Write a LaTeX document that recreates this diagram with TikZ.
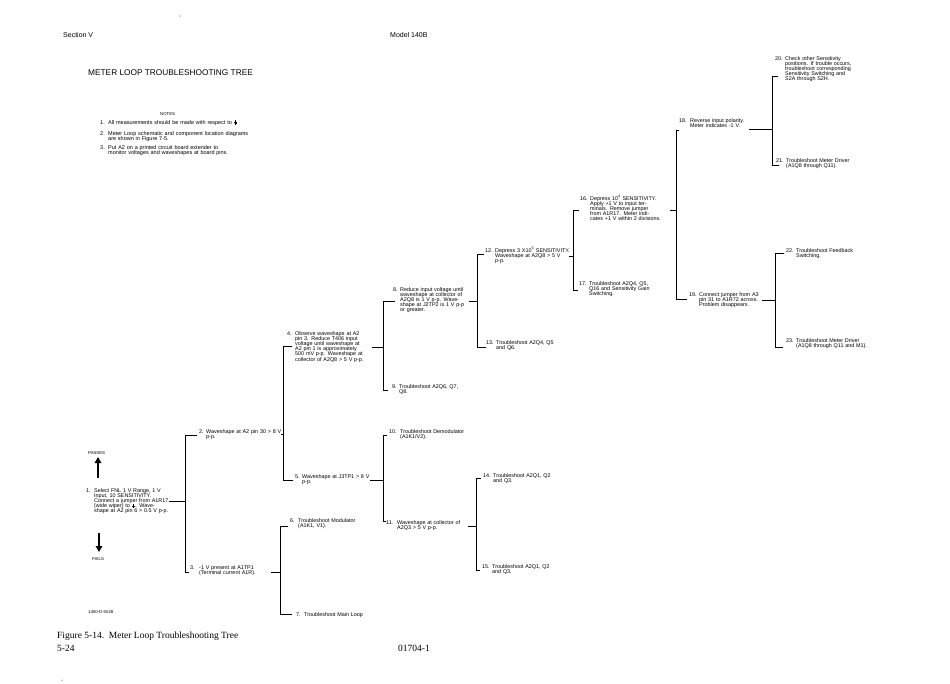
\documentclass[tikz,border=0pt]{standalone}
\usepackage{fontspec}
\setmainfont{Liberation Sans}
\newfontfamily\capfont{Liberation Serif}
\usetikzlibrary{arrows.meta}
\newcommand\nodefont{\fontsize{5.4}{5.2}\selectfont}
\newcommand\gndsym{\tikz[baseline=0pt,x=1pt,y=1pt,line width=0.35pt]{\draw (1.6,3.6)--(1.6,1.9) (0,1.9)--(3.2,1.9) (0.6,1.1)--(2.6,1.1) (1.1,0.3)--(2.1,0.3);}}
\tikzset{
  ln/.style={line width=0.7pt,line cap=rect},
  num/.style={anchor=base west,inner sep=0pt,font=\nodefont},
  txt/.style={anchor=base west,inner sep=0pt,font=\nodefont,align=left,text width=#1},
  txt/.default=115pt,
  notefont/.style={anchor=base west,inner sep=0pt,font=\fontsize{5.5}{5.4}\selectfont,align=left,text width=#1},
  notefont/.default=160pt,
  hdr/.style={anchor=base west,inner sep=0pt,font=\fontsize{7}{8}\selectfont},
  ttl/.style={anchor=base west,inner sep=0pt,font=\fontsize{8.3}{9}\selectfont},
  tiny/.style={anchor=base west,inner sep=0pt,font=\fontsize{4.3}{5}\selectfont},
  capt/.style={anchor=base west,inner sep=0pt,font=\capfont\fontsize{9.5}{11}\selectfont},
  bigarrow/.style={line width=2.2pt,-{Triangle[width=6.5pt,length=6pt]}},
  speck/.style={fill=black,draw=none},
}
\begin{document}
\begin{tikzpicture}[x=1pt,y=-1pt]
\useasboundingbox[fill=white] (0,0) rectangle (950,683);

% header
\node[hdr] (sec) at (63,37) {Section V};
\node[hdr] (model) at (390,37) {Model 140B};
\node[ttl] (title) at (88,75) {METER LOOP TROUBLESHOOTING TREE};
\fill[speck] (180,16) circle (0.5);
\fill[speck] (62,680) circle (0.5);

% notes
\node[tiny] (notes) at (160,115) {NOTES};
\node[notefont=8pt] (nn1) at (100,124) {1.};
\node[notefont] (nt1) at (108,124) {All measurements should be made with respect to \gndsym};
\node[notefont=8pt] (nn2) at (100,135) {2.};
\node[notefont] (nt2) at (108,135) {Meter Loop schematic and component location diagrams\\are shown in Figure 7-5.};
\node[notefont=8pt] (nn3) at (100,149) {3.};
\node[notefont] (nt3) at (108,149) {Put A2 on a printed circuit board extender to\\monitor voltages and waveshapes at board pins.};

% passes / fails
\node[tiny] (passes) at (88,454) {PASSES};
\coordinate (upS) at (98,478);
\coordinate (upE) at (98,457);
\draw[bigarrow] (upS) -- (upE);
\coordinate (dnS) at (99,533);
\coordinate (dnE) at (99,552);
\draw[bigarrow] (dnS) -- (dnE);
\node[tiny] (fails) at (92,560) {FAILS};

% node 1
\node[num] (n1n) at (86,492) {1.};
\node[txt] (n1) at (94,492) {Select FNL 1 V Range, 1 V\\Input, 10 SENSITIVITY.\\Connect a jumper from A1R17\\(wide wiper) to \gndsym. Wave-\\shape at A2 pin 6 > 0.5 V p-p.};
\coordinate (n1r) at (169,501);
\coordinate (v1t) at (185,435);
\coordinate (v1m) at (185,501);
\coordinate (v1b) at (185,572);
\coordinate (s2) at (197,435);
\coordinate (s3) at (189,572);
\draw[ln] (n1r) -- (v1m);
\draw[ln] (s2) -- (v1t) -- (v1b) -- (s3);

% node 2
\node[num] (n2n) at (199,433) {2.};
\node[txt] (n2) at (206,433) {Waveshape at A2 pin 30 > 8 V\\p-p.};
\coordinate (n2r) at (281,434);
\coordinate (v2m) at (283,434);
\coordinate (v2t) at (283,346);
\coordinate (v2b) at (283,480);
\coordinate (s4) at (292,346);
\coordinate (s5) at (293,480);
\draw[ln] (n2r) -- (v2m);
\draw[ln] (s4) -- (v2t) -- (v2b) -- (s5);

% node 4
\node[num] (n4n) at (287,335) {4.};
\node[txt] (n4) at (295,335) {Observe waveshape at A2\\pin 3. Reduce T406 input\\voltage until waveshape at\\A2 pin 1 is approximately\\500 mV p-p. Waveshape at\\collector of A2Q8 > 5 V p-p.};
\coordinate (n4r) at (372,347);
\coordinate (v4m) at (383,347);
\coordinate (v4t) at (383,301);
\coordinate (v4b) at (383,390);
\coordinate (s8) at (395,301);
\coordinate (s9) at (388,390);
\draw[ln] (n4r) -- (v4m);
\draw[ln] (s8) -- (v4t) -- (v4b) -- (s9);

% node 8
\node[num] (n8n) at (393,291) {8.};
\node[txt] (n8) at (400,291) {Reduce input voltage until\\waveshape at collector of\\A2Q8 is 1 V p-p. Wave-\\shape at J2TP2 is 1 V p-p\\or greater.};
\coordinate (n8r) at (469,301);
\coordinate (v8m) at (477,301);
\coordinate (v8t) at (477,254);
\coordinate (v8b) at (477,347);
\coordinate (s12) at (484,254);
\coordinate (s13) at (486,347);
\draw[ln] (n8r) -- (v8m);
\draw[ln] (s12) -- (v8t) -- (v8b) -- (s13);

% node 9
\node[num] (n9n) at (392,388) {9.};
\node[txt] (n9) at (399,388) {Troubleshoot A2Q6, Q7,\\Q8.};

% node 12
\node[num] (n12n) at (485,252) {12.};
\node[txt] (n12) at (495,252) {Depress 3 X10\textsuperscript{5} SENSITIVITY.\\Waveshape at A2Q8 > 5 V\\p-p.};
\coordinate (n12r) at (569,256);
\coordinate (v12m) at (573,256);
\coordinate (v12t) at (573,210);
\coordinate (v12b) at (573,290);
\coordinate (s16) at (579,210);
\coordinate (s17) at (578,290);
\draw[ln] (n12r) -- (v12m);
\draw[ln] (s16) -- (v12t) -- (v12b) -- (s17);

% node 13
\node[num] (n13n) at (486,344) {13.};
\node[txt] (n13) at (496,344) {Troubleshoot A2Q4, Q5\\and Q6.};

% node 16
\node[num] (n16n) at (580,200) {16.};
\node[txt] (n16) at (590,200) {Depress 10\textsuperscript{4} SENSITIVITY.\\Apply +1 V to input ter-\\minals. Remove jumper\\from A1R17. Meter indi-\\cates +1 V within 2 divisions.};
\coordinate (n16r) at (670,210);
\coordinate (v16m) at (676,210);
\coordinate (v16t) at (676,130);
\coordinate (v16b) at (676,299);
\coordinate (s18) at (679,130);
\coordinate (s19) at (687,299);
\draw[ln] (n16r) -- (v16m);
\draw[ln] (s18) -- (v16t) -- (v16b) -- (s19);

% node 17
\node[num] (n17n) at (579,285) {17.};
\node[txt] (n17) at (589,285) {Troubleshoot A2Q4, Q5,\\Q16 and Sensitivity Gain\\Switching.};

% node 18
\node[num] (n18n) at (679,122) {18.};
\node[txt] (n18) at (690,122) {Reverse input polarity.\\Meter indicates -1 V.};
\coordinate (n18r) at (749,129);
\coordinate (v18m) at (772,129);
\coordinate (v18t) at (772,76);
\coordinate (v18b) at (772,165);
\coordinate (s20) at (778,76);
\coordinate (s21) at (779,165);
\draw[ln] (n18r) -- (v18m);
\draw[ln] (s20) -- (v18t) -- (v18b) -- (s21);

% node 20
\node[num] (n20n) at (775,60) {20.};
\node[txt] (n20) at (785,60) {Check other Sensitivity\\positions. If trouble occurs,\\troubleshoot corresponding\\Sensitivity Switching and\\S2A through S2H.};

% node 21
\node[num] (n21n) at (776,162) {21.};
\node[txt] (n21) at (786,162) {Troubleshoot Meter Driver\\(A1Q8 through Q11).};

% node 19
\node[num] (n19n) at (689,296) {19.};
\node[txt] (n19) at (699,296) {Connect jumper from A3\\pin 31 to A1R72 across.\\Problem disappears.};
\coordinate (n19r) at (762,300);
\coordinate (v19m) at (775,300);
\coordinate (v19t) at (775,253);
\coordinate (v19b) at (775,347);
\coordinate (s22) at (784,253);
\coordinate (s23) at (783,347);
\draw[ln] (n19r) -- (v19m);
\draw[ln] (s22) -- (v19t) -- (v19b) -- (s23);

% node 22
\node[num] (n22n) at (786,252) {22.};
\node[txt] (n22) at (796,252) {Troubleshoot Feedback\\Switching.};

% node 23
\node[num] (n23n) at (786,342) {23.};
\node[txt] (n23) at (796,342) {Troubleshoot Meter Driver\\(A1Q8 through Q11 and M1).};

% node 5
\node[num] (n5n) at (295,478) {5.};
\node[txt] (n5) at (302,478) {Waveshape at J3TP1 > 8 V\\p-p.};
\coordinate (n5r) at (370,480);
\coordinate (v5m) at (383,480);
\coordinate (v5t) at (383,435);
\coordinate (v5b) at (383,521);
\coordinate (s10) at (387,435);
\coordinate (s11) at (386,521);
\draw[ln] (n5r) -- (v5m);
\draw[ln] (s10) -- (v5t) -- (v5b) -- (s11);

% node 10
\node[num] (n10n) at (389,433) {10.};
\node[txt] (n10) at (400,433) {Troubleshoot Demodulator\\(A1K1/V2).};

% node 11
\node[num] (n11n) at (386,524) {11.};
\node[txt] (n11) at (397,524) {Waveshape at collector of\\A2Q3 > 5 V p-p.};
\coordinate (n11r) at (468,526);
\coordinate (v11m) at (476,526);
\coordinate (v11t) at (476,478);
\coordinate (v11b) at (476,570);
\coordinate (s14) at (481,478);
\coordinate (s15) at (480,570);
\draw[ln] (n11r) -- (v11m);
\draw[ln] (s14) -- (v11t) -- (v11b) -- (s15);

% node 14
\node[num] (n14n) at (483,477) {14.};
\node[txt] (n14) at (493,477) {Troubleshoot A2Q1, Q2\\and Q3.};

% node 15
\node[num] (n15n) at (482,568) {15.};
\node[txt] (n15) at (492,568) {Troubleshoot A2Q1, Q2\\and Q3.};

% node 3
\node[num] (n3n) at (190,569) {3.};
\node[txt] (n3) at (199,569) {-1 V present at A1TP1\\(Terminal current A1R).};
\coordinate (n3r) at (271,572);
\coordinate (v3m) at (280,572);
\coordinate (v3t) at (280,526);
\coordinate (v3b) at (280,614);
\coordinate (s6) at (288,526);
\coordinate (s7) at (292,614);
\draw[ln] (n3r) -- (v3m);
\draw[ln] (s6) -- (v3t) -- (v3b) -- (s7);

% node 6
\node[num] (n6n) at (290,522) {6.};
\node[txt] (n6) at (298,522) {Troubleshoot Modulator\\(A1K1, V1).};

% node 7
\node[num] (n7n) at (296,616) {7.};
\node[txt] (n7) at (304,616) {Troubleshoot Main Loop};

% footer
\node[tiny] (dwg) at (88,613) {1400-D-5028};
\node[capt] (cap) at (57,638) {Figure 5-14.\ \ Meter Loop Troubleshooting Tree};
\node[capt] (pg) at (57,651) {5-24};
\node[capt] (doc) at (398,651) {01704-1};
\end{tikzpicture}
\end{document}
